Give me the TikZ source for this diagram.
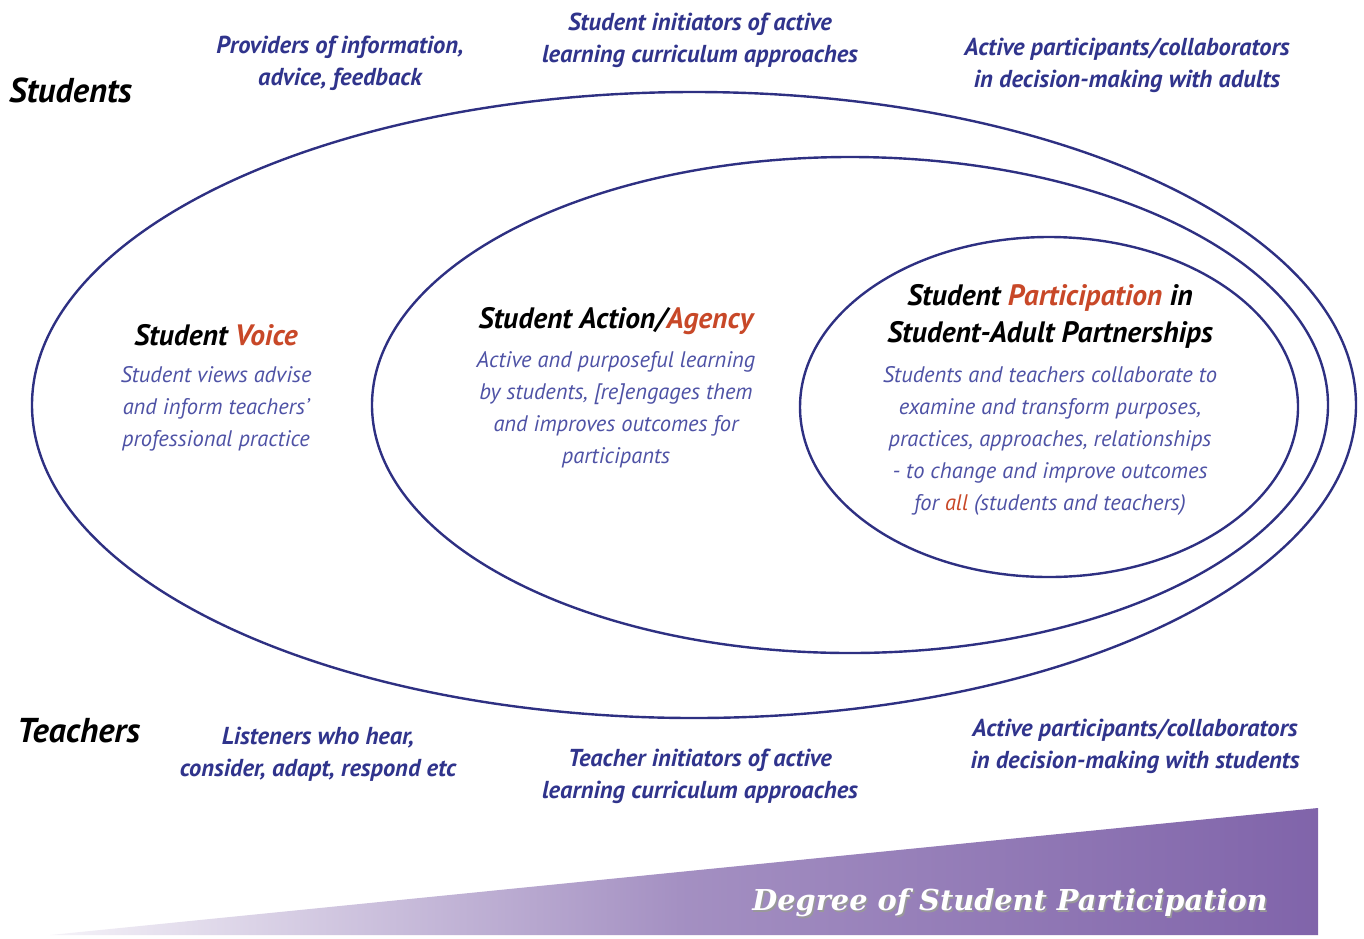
\documentclass[tikz,border=0pt]{standalone}
\usepackage{fontspec}
\setmainfont{PT Sans}
\newfontfamily\degreefont{DejaVu Serif}
\usetikzlibrary{positioning}

\definecolor{ringblue}{RGB}{46,48,130}
\definecolor{roleblue}{RGB}{48,52,140}
\definecolor{descblue}{RGB}{78,82,165}
\definecolor{accent}{RGB}{200,72,40}
\definecolor{wedgedark}{RGB}{128,100,170}

\tikzset{
  ring/.style={draw=ringblue, line width=2.4pt},
  sidelabel/.style={font=\fontsize{34.5}{40}\selectfont\bfseries\itshape, anchor=west, inner sep=0pt},
  rolelabel/.style={font=\fontsize{24.5}{32}\selectfont\bfseries\itshape, text=roleblue, align=center, inner sep=0pt},
  headlabel/.style={font=\fontsize{29.5}{37}\selectfont\bfseries\itshape, align=center, inner sep=0pt},
  desclabel/.style={font=\fontsize{22.5}{32}\selectfont\itshape, text=descblue, align=center, inner sep=0pt},
  degreelabel/.style={font=\fontsize{28.8}{34}\selectfont\degreefont\bfseries\itshape, inner sep=0pt},
}

\begin{document}
\begin{tikzpicture}[x=1pt, y=1pt]
\useasboundingbox (0,0) rectangle (1364,-938);

% wedge
\shade[left color=wedgedark!8, right color=wedgedark, middle color=wedgedark!72]
  (50,-935) -- (1318,-808) -- (1318,-935) -- cycle;

% rings
\draw[ring] (694,-405) ellipse (662 and 313);
\draw[ring] (850,-405) ellipse (478 and 248);
\draw[ring] (1049,-407) ellipse (249 and 170);

% side labels
\node[sidelabel] (students) at (9,-90) {Students};
\node[sidelabel] (teachers) at (17,-731) {Teachers};

% student roles
\node[rolelabel] (provide) at (340,-63) {Providers of information,\\advice, feedback};
\node[rolelabel] (sinit) at (700,-40) {Student initiators of active\\learning curriculum approaches};
\node[rolelabel] (sactive) at (1127,-65) {Active participants/collaborators\\in decision-making with adults};

% teacher roles
\node[rolelabel] (listen) at (318,-754) {Listeners who hear,\\consider, adapt, respond etc};
\node[rolelabel] (tinit) at (700,-776) {Teacher initiators of active\\learning curriculum approaches};
\node[rolelabel] (tactive) at (1135,-746) {Active participants/collaborators\\in decision-making with students};

% ring contents
\node[headlabel] (voice) at (216,-335) {Student \textcolor{accent}{Voice}};
\node[desclabel] (voicetext) at (216,-409) {Student views advise\\and inform teachers’\\professional practice};

\node[headlabel] (agency) at (616,-321) {Student Action/\textcolor{accent}{Agency}};
\node[desclabel] (agencytext) at (616,-410) {Active and purposeful learning\\by students, [re]engages them\\and improves outcomes for\\participants};

\node[headlabel] (partner) at (1050,-316) {Student \textcolor{accent}{Participation} in\\Student-Adult Partnerships};
\node[desclabel] (partnertext) at (1050,-441) {Students and teachers collaborate to\\examine and transform purposes,\\practices, approaches, relationships\\- to change and improve outcomes\\for \textcolor{accent}{all} (students and teachers)};

% wedge caption
\node[degreelabel, text=black!40] (degreeshadow) at (1011.5,-904.5) {Degree of Student Participation};
\node[degreelabel, text=white] (degree) at (1010,-903) {Degree of Student Participation};

\end{tikzpicture}
\end{document}
